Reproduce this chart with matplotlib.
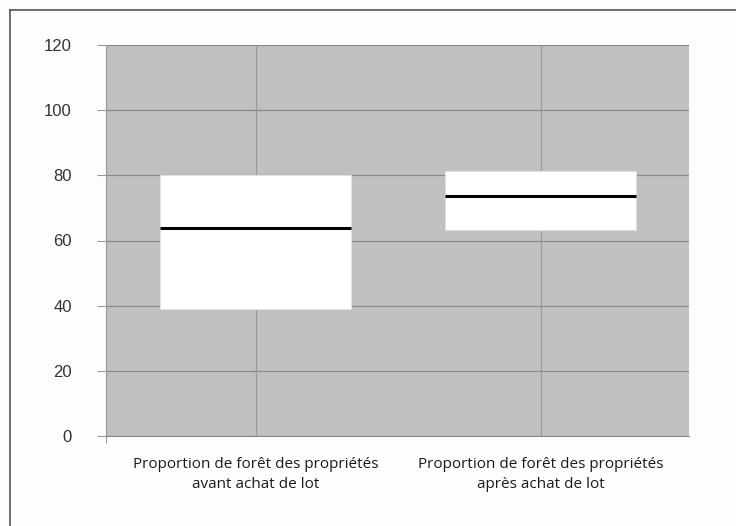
import matplotlib.pyplot as plt
import matplotlib.patches as mpatches
import matplotlib.lines as mlines

# Box values
labels = ["Proportion de forêt des propriétés\navant achat de lot",
          "Proportion de forêt des propriétés\naprès achat de lot"]
q1 = [39, 63.3]
median = [63.7, 73.6]
q3 = [80, 81.2]
yticks = [0, 20, 40, 60, 80, 100, 120]

fig = plt.figure(figsize=(7.36, 5.26), dpi=100)
fig.patch.set_facecolor("#fdfdfb")

# outer frame (top and left lines only)
fig.add_artist(mlines.Line2D([10/736, 10/736], [0, 1 - 10/526], color="#555555", lw=1.2))
fig.add_artist(mlines.Line2D([10/736, 1], [1 - 10/526, 1 - 10/526], color="#555555", lw=1.2))

ax = fig.add_axes([106/736, 1 - 436/526, (689 - 106)/736, (436 - 45)/526])
ax.set_facecolor("#c0c0c0")
ax.set_xlim(-0.526, 1.52)
ax.set_ylim(0, 120)

for y in yticks:
    ax.axhline(y, color="#8a8a8a", lw=0.9, zorder=1)
for i in range(len(labels)):
    ax.axvline(i, color="#999999", lw=0.9, zorder=1)

width = 0.67
for i in range(len(labels)):
    ax.add_patch(mpatches.Rectangle((i - width/2, q1[i]), width, q3[i] - q1[i],
                                    facecolor="white", edgecolor="#e0e0e0", lw=0.8, zorder=2))
    ax.plot([i - width/2, i + width/2], [median[i], median[i]], color="black", lw=2.2, zorder=3,
            solid_capstyle="butt")

for s in ["top", "right"]:
    ax.spines[s].set_visible(False)
ax.spines["left"].set_color("#999999")
ax.spines["bottom"].set_color("#8a8a8a")

ax.set_yticks(yticks)
ax.set_yticklabels([str(v) for v in yticks], fontsize=12, color="#333333", family="Liberation Sans")
ax.tick_params(axis="y", length=6.5, color="#999999", pad=18)
ax.set_xticks([-0.526])
ax.set_xticklabels([""])
ax.tick_params(axis="x", length=5, color="#999999")

for i, lab in enumerate(labels):
    ax.text(i, -6.5, lab, ha="center", va="top", fontsize=11, color="#1a1a1a",
            family="Open Sans", linespacing=1.45, transform=ax.transData)

fig.savefig("out.png", dpi=100, facecolor=fig.get_facecolor())
